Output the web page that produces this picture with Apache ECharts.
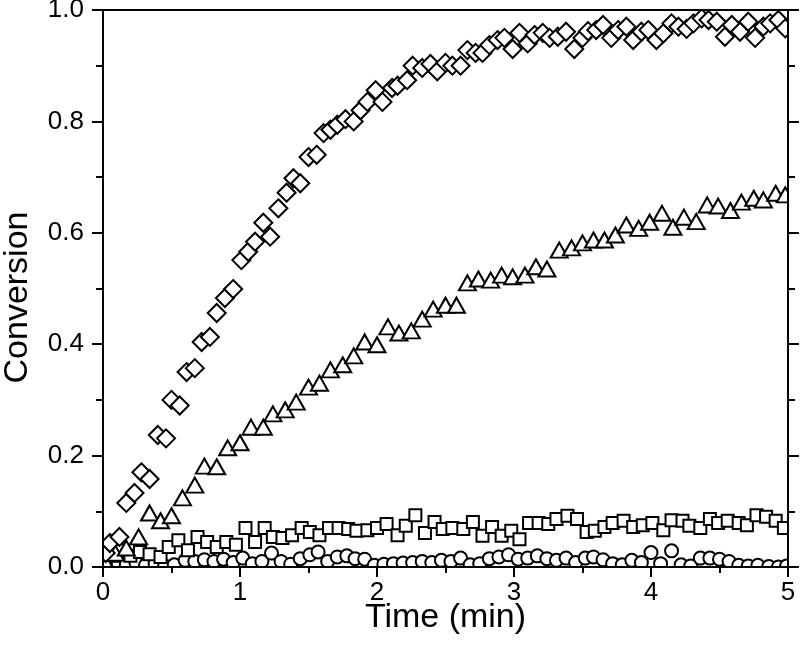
<!DOCTYPE html>
<html>
<head>
<meta charset="utf-8">
<script src="https://cdn.jsdelivr.net/npm/echarts@6/dist/echarts.min.js"></script>
<style>
html,body{margin:0;padding:0;background:#fff;}
#chart{width:800px;height:655px;}
</style>
</head>
<body>
<div id="chart"></div>
<script>
// Data: [time (min), conversion]
var diamonds = [
[0.02,0.025],[0.05,0.043],[0.12,0.054],[0.17,0.115],[0.23,0.133],[0.28,0.17],[0.34,0.158],[0.40,0.237],[0.46,0.231],[0.50,0.30],
[0.56,0.29],[0.61,0.35],[0.67,0.357],[0.72,0.404],[0.78,0.413],[0.83,0.456],[0.89,0.483],[0.95,0.499],[1.01,0.551],[1.06,0.566],
[1.11,0.584],[1.17,0.618],[1.22,0.593],[1.28,0.644],[1.34,0.672],[1.39,0.698],[1.44,0.689],[1.50,0.736],[1.56,0.74],[1.61,0.779],
[1.66,0.785],[1.71,0.794],[1.77,0.804],[1.83,0.80],[1.88,0.82],[1.93,0.835],[1.99,0.856],[2.04,0.835],[2.11,0.86],[2.15,0.864],
[2.22,0.874],[2.26,0.90],[2.33,0.896],[2.39,0.903],[2.44,0.89],[2.50,0.905],[2.55,0.90],[2.61,0.90],[2.66,0.928],[2.72,0.923],
[2.77,0.923],[2.82,0.937],[2.88,0.946],[2.93,0.95],[2.99,0.93],[3.04,0.959],[3.10,0.94],[3.15,0.955],[3.21,0.959],[3.26,0.95],
[3.32,0.952],[3.38,0.961],[3.44,0.93],[3.50,0.95],[3.54,0.962],[3.60,0.964],[3.65,0.973],[3.71,0.95],[3.76,0.964],[3.82,0.97],
[3.87,0.946],[3.93,0.961],[3.98,0.964],[4.04,0.946],[4.09,0.958],[4.15,0.976],[4.20,0.97],[4.26,0.966],[4.31,0.976],[4.37,0.985],
[4.42,0.982],[4.48,0.979],[4.54,0.952],[4.59,0.973],[4.65,0.961],[4.71,0.979],[4.76,0.95],[4.82,0.97],[4.87,0.976],[4.93,0.982],
[4.98,0.967]
];
var triangles = [
[0.01,0.012],[0.09,0.025],[0.17,0.034],[0.26,0.054],[0.34,0.097],[0.42,0.083],[0.50,0.092],[0.58,0.124],[0.67,0.147],[0.74,0.181],
[0.83,0.18],[0.91,0.214],[1.00,0.223],[1.08,0.251],[1.17,0.251],[1.24,0.275],[1.33,0.282],[1.41,0.296],[1.50,0.323],[1.58,0.33],
[1.66,0.354],[1.75,0.363],[1.83,0.379],[1.91,0.404],[2.00,0.399],[2.08,0.431],[2.16,0.42],[2.25,0.424],[2.33,0.445],[2.41,0.463],
[2.50,0.47],[2.58,0.47],[2.66,0.51],[2.74,0.517],[2.83,0.515],[2.91,0.524],[2.99,0.521],[3.08,0.524],[3.16,0.539],[3.24,0.535],
[3.33,0.569],[3.42,0.573],[3.50,0.582],[3.58,0.587],[3.66,0.587],[3.74,0.596],[3.82,0.614],[3.91,0.608],[3.99,0.619],[4.08,0.635],
[4.16,0.61],[4.24,0.628],[4.33,0.62],[4.41,0.65],[4.49,0.648],[4.58,0.64],[4.66,0.655],[4.75,0.662],[4.82,0.659],[4.91,0.671],
[4.98,0.668]
];
var squares = [
[0.02,0.01],[0.08,0.02],[0.14,0.03],[0.20,0.02],[0.27,0.027],[0.34,0.023],[0.42,0.018],[0.48,0.036],[0.55,0.048],[0.62,0.03],
[0.69,0.054],[0.76,0.045],[0.83,0.036],[0.90,0.045],[0.97,0.04],[1.04,0.07],[1.11,0.045],[1.18,0.07],[1.24,0.054],[1.31,0.052],
[1.38,0.057],[1.45,0.07],[1.51,0.063],[1.58,0.057],[1.65,0.07],[1.72,0.07],[1.79,0.068],[1.85,0.065],[1.93,0.066],[2.00,0.07],
[2.07,0.077],[2.15,0.057],[2.21,0.074],[2.28,0.093],[2.35,0.061],[2.42,0.081],[2.48,0.068],[2.55,0.07],[2.63,0.068],[2.70,0.081],
[2.77,0.056],[2.84,0.072],[2.91,0.056],[2.98,0.065],[3.04,0.05],[3.11,0.079],[3.18,0.079],[3.25,0.077],[3.31,0.086],[3.39,0.092],
[3.46,0.086],[3.53,0.063],[3.59,0.065],[3.66,0.072],[3.72,0.079],[3.80,0.083],[3.87,0.072],[3.94,0.075],[4.01,0.079],[4.09,0.066],
[4.15,0.084],[4.23,0.083],[4.28,0.074],[4.36,0.07],[4.43,0.086],[4.49,0.079],[4.56,0.083],[4.64,0.079],[4.70,0.075],[4.77,0.093],
[4.84,0.09],[4.91,0.083],[4.97,0.07]
];
var circles = [
[0.02,0.005],[0.10,0.01],[0.17,0.004],[0.24,0.008],[0.31,0.003],[0.38,0.006],[0.45,0.002],[0.52,0.004],[0.60,0.012],[0.67,0.01],
[0.74,0.013],[0.81,0.01],[0.88,0.014],[0.95,0.008],[1.02,0.016],[1.09,0.006],[1.16,0.01],[1.23,0.025],[1.30,0.01],[1.37,0.005],
[1.44,0.015],[1.51,0.022],[1.57,0.027],[1.64,0.01],[1.71,0.018],[1.78,0.02],[1.84,0.015],[1.91,0.014],[1.98,0.003],[2.05,0.005],
[2.12,0.006],[2.19,0.007],[2.26,0.008],[2.33,0.01],[2.40,0.008],[2.47,0.012],[2.54,0.01],[2.61,0.016],[2.68,0.004],[2.75,0.006],
[2.82,0.015],[2.89,0.018],[2.96,0.022],[3.03,0.014],[3.10,0.016],[3.17,0.02],[3.24,0.015],[3.31,0.012],[3.38,0.016],[3.45,0.008],
[3.52,0.016],[3.58,0.018],[3.65,0.013],[3.72,0.006],[3.79,0.004],[3.86,0.012],[3.93,0.008],[4.00,0.026],[4.07,0.006],[4.15,0.029],
[4.22,0.004],[4.29,0.002],[4.36,0.016],[4.43,0.016],[4.50,0.014],[4.57,0.01],[4.64,0.003],[4.71,0.002],[4.78,0.003],[4.86,0.001],
[4.93,0.0],[4.99,0.002]
];
var xTicks = [0, 1, 2, 3, 4, 5];
var yTicks = [0.0, 0.2, 0.4, 0.6, 0.8, 1.0];
var xTitle = 'Time (min)';
var yTitle = 'Conversion';

var FONT = "'Liberation Sans', Arial, sans-serif";
var GL = 103, GR = 12, GT = 10, GB = 88, W = 800, H = 655;

var chart = echarts.init(document.getElementById('chart'), null, {renderer: 'canvas'});

function mk(name, data, symbol, size) {
  return {
    name: name, type: 'scatter', data: data, symbol: symbol, symbolSize: size,
    xAxisIndex: 0, yAxisIndex: 0, z: 2,
    itemStyle: {color: '#ffffff', borderColor: '#000000', borderWidth: 2, opacity: 1},
    emphasis: {disabled: true}, animation: false
  };
}

var axisLine = {show: true, onZero: false, lineStyle: {color: '#000', width: 2}};

var option = {
  backgroundColor: '#ffffff',
  animation: false,
  grid: {left: GL, right: GR, top: GT, bottom: GB, containLabel: false, outerBoundsMode: 'none'},
  graphic: [
    {type: 'rect', z: 5, silent: true, shape: {x: 0, y: 0, width: W, height: GT}, style: {fill: '#fff'}},
    {type: 'rect', z: 5, silent: true, shape: {x: 0, y: H - GB, width: W, height: GB}, style: {fill: '#fff'}},
    {type: 'rect', z: 5, silent: true, shape: {x: 0, y: 0, width: GL, height: H}, style: {fill: '#fff'}},
    {type: 'rect', z: 5, silent: true, shape: {x: W - GR, y: 0, width: GR, height: H}, style: {fill: '#fff'}}
  ],
  xAxis: [
    {
      type: 'value', position: 'bottom', min: xTicks[0], max: xTicks[xTicks.length - 1], interval: 1, z: 10,
      name: xTitle, nameLocation: 'middle', nameGap: 34, nameMoveOverlap: false,
      nameTextStyle: {fontFamily: FONT, fontSize: 34, color: '#000', verticalAlign: 'top', lineHeight: 34},
      axisLine: axisLine,
      axisTick: {show: true, inside: false, length: 10, lineStyle: {color: '#000', width: 2}},
      minorTick: {show: true, splitNumber: 2, length: 6, lineStyle: {color: '#000', width: 2}},
      axisLabel: {show: true, margin: 13, fontFamily: FONT, fontSize: 26, color: '#000',
        formatter: function (v) { return String(v); }},
      splitLine: {show: false}
    },
    {
      type: 'value', position: 'top', min: xTicks[0], max: xTicks[xTicks.length - 1], interval: 1, z: 10,
      axisLine: axisLine, axisTick: {show: false}, axisLabel: {show: false}, splitLine: {show: false}
    }
  ],
  yAxis: [
    {
      type: 'value', position: 'left', min: yTicks[0], max: yTicks[yTicks.length - 1], interval: 0.2, z: 10,
      name: yTitle, nameLocation: 'middle', nameGap: 68, nameRotate: 90,
      nameTextStyle: {fontFamily: FONT, fontSize: 34, color: '#000', padding: [0, 18, 0, 0]},
      axisLine: axisLine,
      axisTick: {show: true, inside: false, length: 11, lineStyle: {color: '#000', width: 2}},
      minorTick: {show: true, splitNumber: 2, length: 7, lineStyle: {color: '#000', width: 2}},
      axisLabel: {show: true, margin: 19, fontFamily: FONT, fontSize: 26, color: '#000',
        formatter: function (v) { return v.toFixed(1); }},
      splitLine: {show: false}
    },
    {
      type: 'value', position: 'right', min: yTicks[0], max: yTicks[yTicks.length - 1], interval: 0.2, z: 10,
      axisLine: axisLine,
      axisTick: {show: true, inside: false, length: 11, lineStyle: {color: '#000', width: 2}},
      minorTick: {show: true, splitNumber: 2, length: 7, lineStyle: {color: '#000', width: 2}},
      axisLabel: {show: false}, splitLine: {show: false}
    }
  ],
  series: [
    mk('circles', circles, 'circle', 13),
    mk('squares', squares, 'rect', 12),
    mk('triangles', triangles, 'triangle', [17, 15]),
    mk('diamonds', diamonds, 'diamond', 18)
  ]
};
chart.setOption(option);
</script>
</body>
</html>
